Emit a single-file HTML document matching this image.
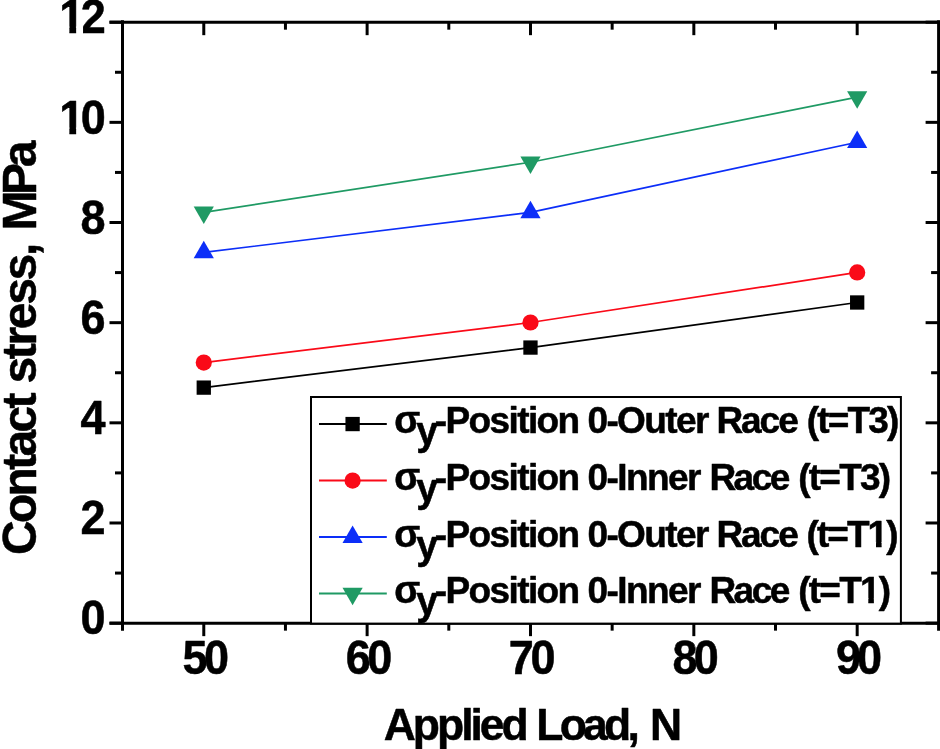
<!DOCTYPE html>
<html lang="en">
<head>
<meta charset="utf-8">
<title>Contact stress vs Applied Load</title>
<style>
html,body{margin:0;padding:0;background:#fff;}
body{width:940px;height:749px;overflow:hidden;}
svg{display:block;}
text{font-family:"Liberation Sans",Arial,Helvetica,sans-serif;font-weight:bold;fill:#000;stroke:#000;stroke-width:0.5;stroke-linejoin:round;}
.ax{stroke:#000;stroke-width:3;fill:none;stroke-linecap:butt;}
.tk{stroke:#000;stroke-width:3;fill:none;}
.ser{fill:none;stroke-width:1.7;stroke-linejoin:round;}
</style>
</head>
<body>
<svg width="940" height="749" viewBox="0 0 940 749">
<rect x="0" y="0" width="940" height="749" fill="#ffffff"/>
<defs>
<clipPath id="c1y10"><path clip-rule="evenodd" d="M-10 -10H950V760H-10Z M60.36 127.55H69.37V136.00H60.36Z M76.14 127.55H84.20V136.00H76.14Z"/></clipPath>
<clipPath id="c1y12"><path clip-rule="evenodd" d="M-10 -10H950V760H-10Z M60.36 26.55H69.37V35.00H60.36Z M76.14 26.55H83.06V35.00H76.14Z"/></clipPath>
<clipPath id="c1r2"><path clip-rule="evenodd" d="M-10 -10H950V760H-10Z M867.97 541.92H875.97V549.00H867.97Z M881.58 541.92H888.25V549.00H881.58Z"/></clipPath>
<clipPath id="c1r3"><path clip-rule="evenodd" d="M-10 -10H950V760H-10Z M860.63 597.92H868.31V605.00H860.63Z M873.86 597.92H880.72V605.00H873.86Z"/></clipPath>
</defs>
<g id="series">
<polyline class="ser" stroke="#000000" points="203.78,387.62 530.48,347.56 857.18,302.49"/>
<rect x="196.62" y="380.47" width="14.3" height="14.3" fill="#000000"/>
<rect x="523.33" y="340.41" width="14.3" height="14.3" fill="#000000"/>
<rect x="850.03" y="295.34" width="14.3" height="14.3" fill="#000000"/>
<polyline class="ser" stroke="#fa0a18" points="203.78,362.58 530.48,322.52 857.18,272.44"/>
<circle cx="203.78" cy="362.58" r="8.1" fill="#fa0a18"/>
<circle cx="530.48" cy="322.52" r="8.1" fill="#fa0a18"/>
<circle cx="857.18" cy="272.44" r="8.1" fill="#fa0a18"/>
<polyline class="ser" stroke="#0c2ef8" points="203.78,252.41 530.48,212.34 857.18,142.23"/>
<polygon points="193.68,258.24 213.88,258.24 203.78,240.74" fill="#0c2ef8"/>
<polygon points="520.38,218.18 540.58,218.18 530.48,200.68" fill="#0c2ef8"/>
<polygon points="847.08,148.07 867.28,148.07 857.18,130.57" fill="#0c2ef8"/>
<polyline class="ser" stroke="#1f9a64" points="203.78,212.34 530.48,162.26 857.18,97.16"/>
<polygon points="193.68,206.51 213.88,206.51 203.78,224.01" fill="#1f9a64"/>
<polygon points="520.38,156.43 540.58,156.43 530.48,173.93" fill="#1f9a64"/>
<polygon points="847.08,91.33 867.28,91.33 857.18,108.83" fill="#1f9a64"/>
</g>
<g id="axes">
<line class="ax" x1="109.5" y1="22.17" x2="941" y2="22.17"/>
<line class="ax" x1="109.5" y1="623.15" x2="941" y2="623.15"/>
<line class="ax" x1="122.5" y1="20.27" x2="122.5" y2="630.65"/>
<line class="ax" x1="938.6" y1="20.27" x2="938.6" y2="630.65"/>
<line class="tk" x1="109.50" y1="623.15" x2="122.5" y2="623.15"/><line class="tk" x1="925.60" y1="623.15" x2="938.6" y2="623.15"/>
<line class="tk" x1="115.00" y1="573.07" x2="122.5" y2="573.07"/><line class="tk" x1="931.10" y1="573.07" x2="938.6" y2="573.07"/>
<line class="tk" x1="109.50" y1="522.99" x2="122.5" y2="522.99"/><line class="tk" x1="925.60" y1="522.99" x2="938.6" y2="522.99"/>
<line class="tk" x1="115.00" y1="472.91" x2="122.5" y2="472.91"/><line class="tk" x1="931.10" y1="472.91" x2="938.6" y2="472.91"/>
<line class="tk" x1="109.50" y1="422.83" x2="122.5" y2="422.83"/><line class="tk" x1="925.60" y1="422.83" x2="938.6" y2="422.83"/>
<line class="tk" x1="115.00" y1="372.75" x2="122.5" y2="372.75"/><line class="tk" x1="931.10" y1="372.75" x2="938.6" y2="372.75"/>
<line class="tk" x1="109.50" y1="322.67" x2="122.5" y2="322.67"/><line class="tk" x1="925.60" y1="322.67" x2="938.6" y2="322.67"/>
<line class="tk" x1="115.00" y1="272.59" x2="122.5" y2="272.59"/><line class="tk" x1="931.10" y1="272.59" x2="938.6" y2="272.59"/>
<line class="tk" x1="109.50" y1="222.51" x2="122.5" y2="222.51"/><line class="tk" x1="925.60" y1="222.51" x2="938.6" y2="222.51"/>
<line class="tk" x1="115.00" y1="172.43" x2="122.5" y2="172.43"/><line class="tk" x1="931.10" y1="172.43" x2="938.6" y2="172.43"/>
<line class="tk" x1="109.50" y1="122.35" x2="122.5" y2="122.35"/><line class="tk" x1="925.60" y1="122.35" x2="938.6" y2="122.35"/>
<line class="tk" x1="115.00" y1="72.27" x2="122.5" y2="72.27"/><line class="tk" x1="931.10" y1="72.27" x2="938.6" y2="72.27"/>
<line class="tk" x1="109.50" y1="22.19" x2="122.5" y2="22.19"/><line class="tk" x1="925.60" y1="22.19" x2="938.6" y2="22.19"/>
<line class="tk" x1="203.78" y1="22.17" x2="203.78" y2="35.17"/><line class="tk" x1="203.78" y1="623.15" x2="203.78" y2="636.15"/>
<line class="tk" x1="285.45" y1="22.17" x2="285.45" y2="29.67"/><line class="tk" x1="285.45" y1="623.15" x2="285.45" y2="630.65"/>
<line class="tk" x1="367.12" y1="22.17" x2="367.12" y2="35.17"/><line class="tk" x1="367.12" y1="623.15" x2="367.12" y2="636.15"/>
<line class="tk" x1="448.80" y1="22.17" x2="448.80" y2="29.67"/><line class="tk" x1="448.80" y1="623.15" x2="448.80" y2="630.65"/>
<line class="tk" x1="530.48" y1="22.17" x2="530.48" y2="35.17"/><line class="tk" x1="530.48" y1="623.15" x2="530.48" y2="636.15"/>
<line class="tk" x1="612.15" y1="22.17" x2="612.15" y2="29.67"/><line class="tk" x1="612.15" y1="623.15" x2="612.15" y2="630.65"/>
<line class="tk" x1="693.83" y1="22.17" x2="693.83" y2="35.17"/><line class="tk" x1="693.83" y1="623.15" x2="693.83" y2="636.15"/>
<line class="tk" x1="775.50" y1="22.17" x2="775.50" y2="29.67"/><line class="tk" x1="775.50" y1="623.15" x2="775.50" y2="630.65"/>
<line class="tk" x1="857.18" y1="22.17" x2="857.18" y2="35.17"/><line class="tk" x1="857.18" y1="623.15" x2="857.18" y2="636.15"/>
</g>
<g id="ticklabels" font-size="45">
<text transform="translate(80.50 634.35) scale(1 1.06)" letter-spacing="0.00">0</text>
<text transform="translate(80.50 534.19) scale(1 1.06)" letter-spacing="0.00">2</text>
<text transform="translate(80.50 434.03) scale(1 1.06)" letter-spacing="0.00">4</text>
<text transform="translate(80.50 333.87) scale(1 1.06)" letter-spacing="0.00">6</text>
<text transform="translate(80.50 233.71) scale(1 1.06)" letter-spacing="0.00">8</text>
<g clip-path="url(#c1y10)"><text transform="translate(59.25 133.55) scale(1 1.06)" letter-spacing="-3.45">10</text></g>
<g clip-path="url(#c1y12)"><text transform="translate(59.25 33.39) scale(1 1.06)" letter-spacing="-3.52">12</text></g>
<text transform="translate(182.41 674.35) scale(1 1.06)" letter-spacing="-3.48">50</text>
<text transform="translate(345.73 674.35) scale(1 1.06)" letter-spacing="-3.61">60</text>
<text transform="translate(508.83 674.35) scale(1 1.06)" letter-spacing="-3.30">70</text>
<text transform="translate(672.56 674.35) scale(1 1.06)" letter-spacing="-3.94">80</text>
<text transform="translate(835.88 674.35) scale(1 1.06)" letter-spacing="-3.89">90</text>
</g>
<text id="xtitle" transform="translate(0 739.8) scale(1 1.015)" font-size="44.5"><tspan x="383.68" letter-spacing="-3.01">Applied</tspan> <tspan x="536.32" letter-spacing="-3.79">Load,</tspan> <tspan x="649.96" letter-spacing="0.00">N</tspan></text>
<text id="ytitle" transform="translate(35.9 553.2) rotate(-90) scale(1 1.01)" font-size="48"><tspan x="-1.76" letter-spacing="-2.70">Contact</tspan> <tspan x="169.72" letter-spacing="-2.34">stress,</tspan> <tspan x="322.61" letter-spacing="-4.26">MPa</tspan></text>
<g id="legend">
<rect x="311" y="397" width="589.90" height="226.60" fill="#fff" stroke="#000" stroke-width="2"/>
<line x1="319" y1="424.05" x2="386.8" y2="424.05" stroke="#000000" stroke-width="1.9"/>
<rect x="345.45" y="416.90" width="14.3" height="14.3" fill="#000000"/>
<text transform="translate(0 433.3) scale(1 1.02)" font-size="37"><tspan x="394.20" letter-spacing="0.00" font-size="38">σ</tspan><tspan x="416.36" letter-spacing="0.00" font-size="39" dy="11.76">y</tspan><tspan x="434.76" letter-spacing="-1.60" dy="-11.76">-Position</tspan> <tspan x="587.45" letter-spacing="-1.61">0-Outer</tspan> <tspan x="716.47" letter-spacing="-2.06">Race</tspan> <tspan x="806.76" letter-spacing="-1.81">(t=T3)</tspan></text>
<line x1="319" y1="480.55" x2="386.8" y2="480.55" stroke="#fa0a18" stroke-width="1.9"/>
<circle cx="352.60" cy="480.55" r="8.1" fill="#fa0a18"/>
<text transform="translate(0 490.0) scale(1 1.02)" font-size="37"><tspan x="394.20" letter-spacing="0.00" font-size="38">σ</tspan><tspan x="416.36" letter-spacing="0.00" font-size="39" dy="11.76">y</tspan><tspan x="434.76" letter-spacing="-1.60" dy="-11.76">-Position</tspan> <tspan x="587.45" letter-spacing="-1.57">0-Inner</tspan> <tspan x="709.47" letter-spacing="-2.56">Race</tspan> <tspan x="798.28" letter-spacing="-1.77">(t=T3)</tspan></text>
<line x1="319" y1="537.05" x2="386.8" y2="537.05" stroke="#0c2ef8" stroke-width="1.9"/>
<polygon points="342.50,542.88 362.70,542.88 352.60,525.38" fill="#0c2ef8"/>
<g clip-path="url(#c1r2)"><text transform="translate(0 546.6) scale(1 1.02)" font-size="37"><tspan x="394.20" letter-spacing="0.00" font-size="38">σ</tspan><tspan x="416.36" letter-spacing="0.00" font-size="39" dy="11.76">y</tspan><tspan x="434.76" letter-spacing="-1.60" dy="-11.76">-Position</tspan> <tspan x="587.45" letter-spacing="-1.61">0-Outer</tspan> <tspan x="716.47" letter-spacing="-2.06">Race</tspan> <tspan x="806.52" letter-spacing="-1.94">(t=T1)</tspan></text></g>
<line x1="319" y1="593.55" x2="386.8" y2="593.55" stroke="#1f9a64" stroke-width="1.9"/>
<polygon points="342.50,587.72 362.70,587.72 352.60,605.22" fill="#1f9a64"/>
<g clip-path="url(#c1r3)"><text transform="translate(0 603.4) scale(1 1.02)" font-size="37"><tspan x="394.20" letter-spacing="0.00" font-size="38">σ</tspan><tspan x="416.36" letter-spacing="0.00" font-size="39" dy="11.76">y</tspan><tspan x="434.76" letter-spacing="-1.60" dy="-11.76">-Position</tspan> <tspan x="587.45" letter-spacing="-1.57">0-Inner</tspan> <tspan x="709.47" letter-spacing="-2.56">Race</tspan> <tspan x="798.28" letter-spacing="-1.77">(t=T1)</tspan></text></g>
</g>
</svg>
</body>
</html>
